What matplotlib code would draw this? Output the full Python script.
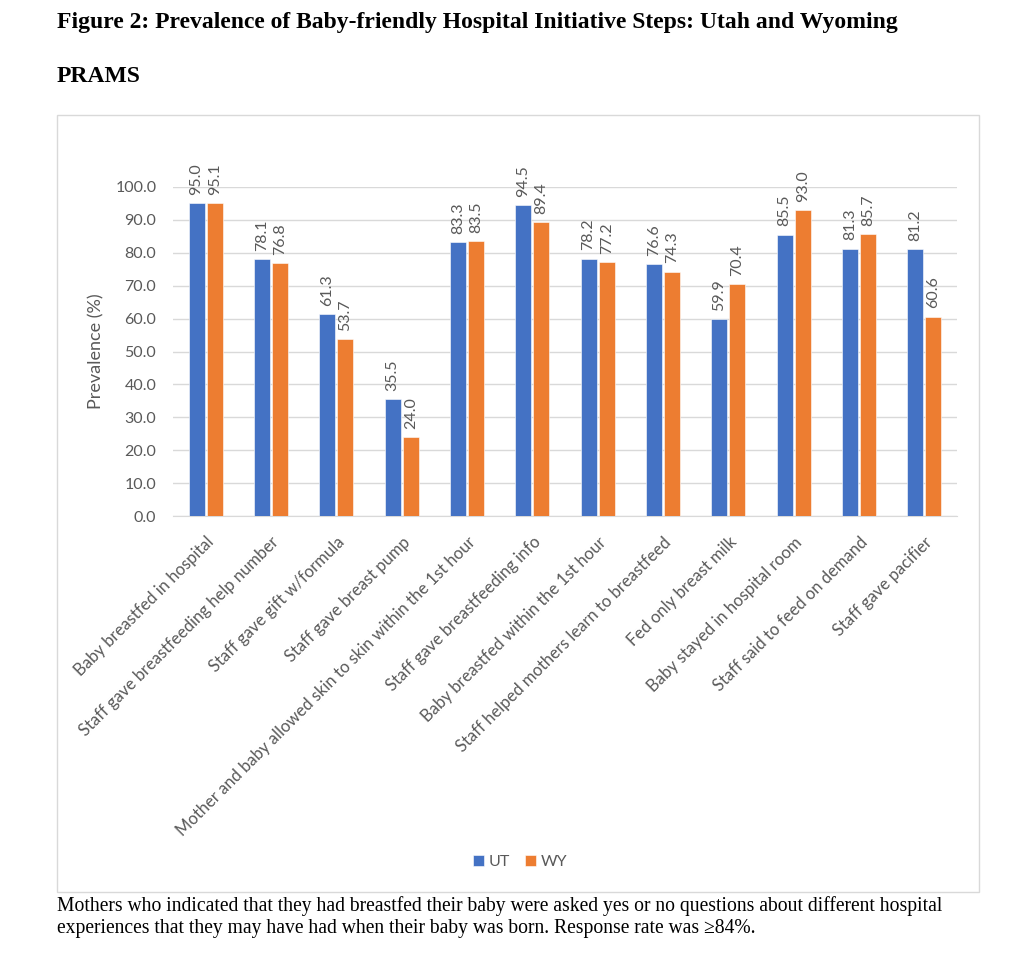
"""
Figure 2: Baby-friendly Hospital Initiative steps, Utah vs Wyoming PRAMS.
Excel-style grouped bar chart with rotated value labels.
"""
import numpy as np
import matplotlib; matplotlib.use("Agg")
import matplotlib.pyplot as plt
import matplotlib.patches as mpatches
import matplotlib.transforms as mtrans

# ── Data
steps = [
    "Baby breastfed in hospital",
    "Staff gave breastfeeding help number",
    "Staff gave gift w/formula",
    "Staff gave breast pump",
    "Mother and baby allowed skin to skin within the 1st hour",
    "Staff gave breastfeeding info",
    "Baby breastfed within the 1st hour",
    "Staff helped mothers learn to breastfeed",
    "Fed only breast milk",
    "Baby stayed in hospital room",
    "Staff said to feed on demand",
    "Staff gave pacifier",
]
ut = [95.0, 78.1, 61.3, 35.5, 83.3, 94.5, 78.2, 76.6, 59.9, 85.5, 81.3, 81.2]
wy = [95.1, 76.8, 53.7, 24.0, 83.5, 89.4, 77.2, 74.3, 70.4, 93.0, 85.7, 60.6]
yticks = np.arange(0, 101, 10)

# ── Style
BLUE   = "#4472C4"
ORANGE = "#ED7D31"
GREY   = "#595959"
GRID   = "#D9D9D9"
SANS   = "Lato"
SERIF  = "Liberation Serif"

W, H = 1024, 956
fig = plt.figure(figsize=(W / 100, H / 100), dpi=100)

# chart frame (Excel chart area border)
fig.patches.append(mpatches.Rectangle((57 / W, 1 - 892 / H), (979 - 57) / W, (892 - 115) / H,
                                      transform=fig.transFigure, fill=False,
                                      edgecolor=GRID, lw=1.0))

ax = fig.add_axes([173 / W, 1 - 516 / H, (957 - 173) / W, (516 - 187) / H])

x = np.arange(len(steps))
bw, off = 0.245, 0.14
b1 = ax.bar(x - off, ut, bw, color=BLUE, edgecolor="white", lw=0.4, label="UT", zorder=3)
b2 = ax.bar(x + off, wy, bw, color=ORANGE, edgecolor="white", lw=0.4, label="WY", zorder=3)

for bars in (b1, b2):
    for bar in bars:
        v = bar.get_height()
        ax.annotate(f"{v:.1f}", (bar.get_x() + bar.get_width() / 2, v),
                    xytext=(0, 6), textcoords="offset points",
                    rotation=90, ha="center", va="bottom",
                    fontsize=11.5, family=SANS, color=GREY)

ax.set_xlim(-0.5, len(steps) - 0.5)
ax.set_ylim(0, 100)
ax.set_yticks(yticks)
ax.set_yticklabels([f"{t:.1f}" for t in yticks], family=SANS, fontsize=11.5, color=GREY)
ax.set_xticks(x)
ax.set_xticklabels(steps, rotation=45, ha="right", rotation_mode="anchor",
                   family=SANS, fontsize=12, color=GREY)
# nudge category labels a touch left so their ends sit on the group centre
shift = mtrans.ScaledTranslation(-5 / 100, 0, fig.dpi_scale_trans)
for lbl in ax.get_xticklabels():
    lbl.set_transform(lbl.get_transform() + shift)
ax.tick_params(axis="both", length=0)
ax.tick_params(axis="x", pad=13)
ax.tick_params(axis="y", pad=12)
ax.grid(axis="y", color=GRID, lw=1.0, zorder=0)
for s in ("top", "right", "left"):
    ax.spines[s].set_visible(False)
ax.spines["bottom"].set_color(GRID)
ax.set_ylabel("Prevalence (%)", family=SANS, fontsize=13, color=GREY)
ax.yaxis.set_label_coords((104 - 173) / (957 - 173), 0.5)

fig.legend(handles=[b1, b2], labels=["UT", "WY"], loc="center",
           bbox_to_anchor=(520 / W, 1 - 862 / H), ncol=2, frameon=False,
           handlelength=0.7, handleheight=0.7, handletextpad=0.3, columnspacing=0.9,
           prop={"family": SANS, "size": 11.5}, labelcolor=GREY)

# ── Document text around the chart
fig.text(57 / W, 1 - 28 / H,
         "Figure 2: Prevalence of Baby-friendly Hospital Initiative Steps: Utah and Wyoming",
         family=SERIF, fontsize=17, fontweight="bold", va="baseline", ha="left")
fig.text(57 / W, 1 - 82 / H, "PRAMS",
         family=SERIF, fontsize=17, fontweight="bold", va="baseline", ha="left")
fig.text(57 / W, 1 - 911 / H,
         "Mothers who indicated that they had breastfed their baby were asked yes or no questions about different hospital",
         family=SERIF, fontsize=14.1, va="baseline", ha="left")
fig.text(57 / W, 1 - 933 / H,
         "experiences that they may have had when their baby was born. Response rate was \u226584%.",
         family=SERIF, fontsize=14.1, va="baseline", ha="left")

fig.savefig("out.png", dpi=100)
